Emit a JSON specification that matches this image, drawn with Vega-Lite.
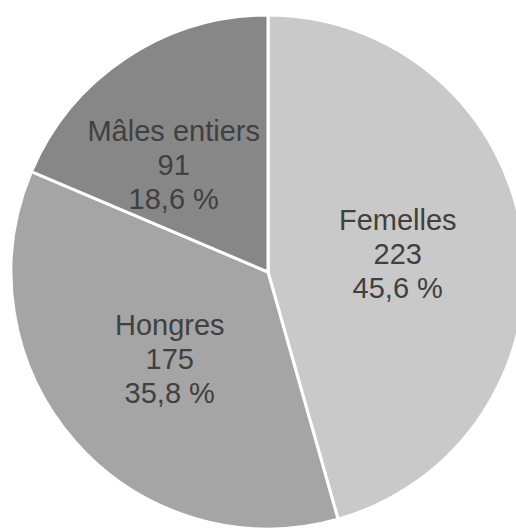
{
  "$schema": "https://vega.github.io/schema/vega-lite/v6.json",
  "width": 496,
  "height": 512,
  "autosize": {"type": "none"},
  "padding": {"left": 20, "top": 16, "right": 0, "bottom": 0},
  "background": "white",
  "view": {"stroke": null},
  "data": {
    "values": [
      {"category": "Femelles", "count": 223, "label": "Femelles\n223\n45,6 %", "order": 1},
      {"category": "Hongres", "count": 175, "label": "Hongres\n175\n35,8 %", "order": 2},
      {"category": "Mâles entiers", "count": 91, "label": "Mâles entiers\n91\n18,6 %", "order": 3}
    ]
  },
  "encoding": {
    "theta": {"field": "count", "type": "quantitative", "stack": true},
    "order": {"field": "order", "type": "quantitative"}
  },
  "layer": [
    {
      "mark": {"type": "arc", "outerRadius": 257, "stroke": "white", "strokeWidth": 3},
      "encoding": {
        "color": {
          "field": "category",
          "type": "nominal",
          "scale": {"domain": ["Femelles", "Hongres", "Mâles entiers"], "range": ["#c9c9c9", "#a5a5a5", "#878787"]},
          "legend": null
        }
      }
    },
    {
      "mark": {"type": "text", "radius": 131, "dy": -33, "font": "Liberation Sans", "fontSize": 29, "lineHeight": 34, "lineBreak": "\n", "color": "#404040", "baseline": "middle", "align": "center"},
      "encoding": {"text": {"condition": {"test": "datum.category != 'Mâles entiers'", "field": "label"}, "value": ""}}
    },
    {
      "mark": {"type": "text", "radius": 131, "dx": -22, "dy": -31, "font": "Liberation Sans", "fontSize": 29, "lineHeight": 34, "lineBreak": "\n", "color": "#404040", "baseline": "middle", "align": "center"},
      "encoding": {"text": {"condition": {"test": "datum.category == 'Mâles entiers'", "field": "label"}, "value": ""}}
    }
  ]
}
